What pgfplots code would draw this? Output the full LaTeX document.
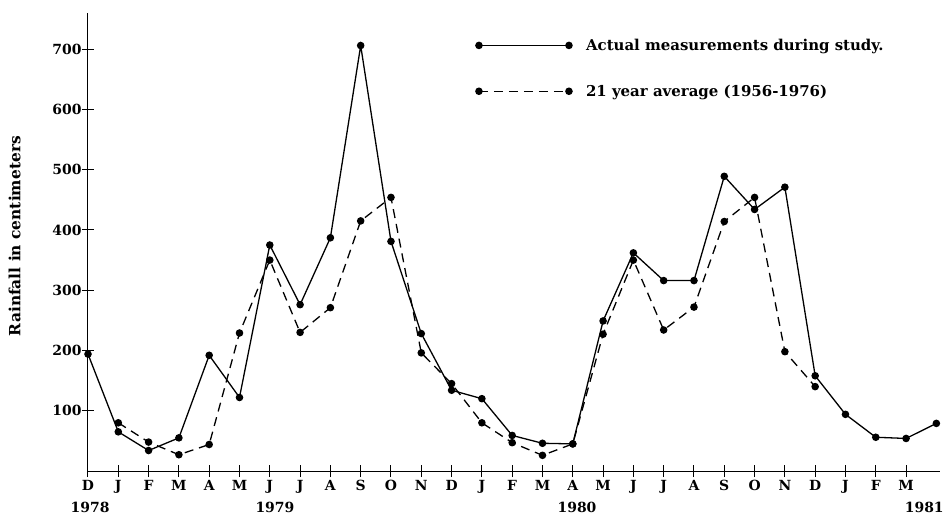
\documentclass[border=0pt]{standalone}
\usepackage{fontspec}
\setmainfont{DejaVu Serif}
\usepackage{pgfplots}
\pgfplotsset{compat=1.18}
\begin{document}
\begin{tikzpicture}
\useasboundingbox (-88bp,-44bp) rectangle (858bp,471bp);
\begin{axis}[
 scale only axis, width=852bp, height=458bp,
 xmin=0, xmax=28.12, ymin=0, ymax=760,
 clip=false,
 axis x line=bottom, axis y line=left,
 axis line style={-, line width=1bp},
 xtick={0,...,27},
 xticklabels={D,J,F,M,A,M,J,J,A,S,O,N,D,J,F,M,A,M,J,J,A,S,O,N,D,J,F,M},
 ytick={100,200,...,700},
 tick align=center, major tick length=12bp,
 tick style={line width=1bp, black},
 /pgf/number format/assume math mode=true,
 ticklabel style={font=\fontsize{14}{16}\selectfont\bfseries},
 yticklabel style={xshift=3bp},
 ylabel={Rainfall in centimeters},
 ylabel style={font=\fontsize{15.5}{18}\selectfont\bfseries, at={(axis description cs:-0.086,0.513)}, anchor=center},
 legend style={draw=none, fill=none, at={(axis description cs:0.455,0.948)}, anchor=north west,
   font=\fontsize{15}{18}\selectfont\bfseries, row sep=29bp, inner sep=0pt,
   /tikz/every odd column/.append style={column sep=12bp}},
 legend cell align=left,
 legend image code/.code={\draw[#1] plot coordinates {(0bp,0bp) (90bp,0bp)};},
]
\addplot[black, line width=1.3bp, mark=*, mark size=3.1bp] coordinates {
(0,194) (1,65) (2,34) (3,55) (4,192) (5,122) (6,375) (7,276) (8,387) (9,706)
(10,381) (11,228) (12,134) (13,120) (14,59) (15,46) (16,45) (17,249) (18,362)
(19,316) (20,316) (21,489) (22,434) (23,471) (24,158) (25,94) (26,56) (27,54) (28,79)
};
\addlegendentry{Actual measurements during study.}
\addplot[black, line width=1.3bp, dash pattern=on 9bp off 6bp, mark=*, mark size=3.1bp, mark options={solid}] coordinates {
(1,80) (2,48) (3,27) (4,44) (5,229) (6,350) (7,230) (8,271) (9,415) (10,454)
(11,196) (12,145) (13,80) (14,47) (15,26) (16,45) (17,227) (18,350) (19,234)
(20,272) (21,414) (22,454) (23,198) (24,140)
};
\addlegendentry{21 year average (1956-1976)}
\node[font=\fontsize{14}{16}\selectfont\bfseries] at (axis cs:0.07,0) [yshift=-36bp] {1978};
\node[font=\fontsize{14}{16}\selectfont\bfseries] at (axis cs:6.17,0) [yshift=-36bp] {1979};
\node[font=\fontsize{14}{16}\selectfont\bfseries] at (axis cs:16.14,0) [yshift=-36bp] {1980};
\node[font=\fontsize{14}{16}\selectfont\bfseries] at (axis cs:27.6,0) [yshift=-36bp] {1981};
\end{axis}
\end{tikzpicture}
\end{document}
